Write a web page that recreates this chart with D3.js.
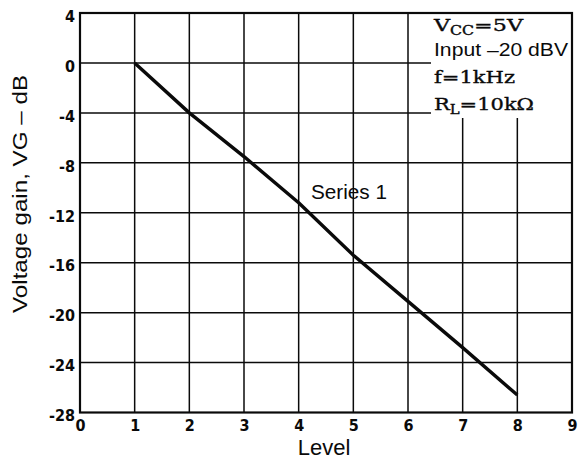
<!DOCTYPE html>
<html>
<head>
<meta charset="utf-8">
<script src="https://cdn.jsdelivr.net/npm/d3@7"></script>
<style>
  html, body { margin: 0; padding: 0; background: #fff; }
  svg { display: block; }
</style>
</head>
<body>
<script>
// Voltage gain against level setting
const levels = [1, 2, 3, 4, 5, 6, 7, 8];
const gainDb = [0, -4, -7.5, -11.2, -15.4, -19.1, -22.8, -26.6];
const xTickValues = [0, 1, 2, 3, 4, 5, 6, 7, 8, 9];
const yTickValues = [4, 0, -4, -8, -12, -16, -20, -24, -28];
const seriesName = "Series 1";
const xTitle = "Level";
const yTitle = "Voltage gain, VG \u2013 dB";

const W = 583, H = 460;
const plot = { left: 80, right: 572, top: 13, bottom: 412.5 };

const svg = d3.select("body").append("svg")
  .attr("width", W).attr("height", H);

const x = d3.scaleLinear().domain([0, 9]).range([plot.left, plot.right]);
const y = d3.scaleLinear().domain([-28, 4]).range([plot.bottom, plot.top]);

const ink = "#0a0a0a";
const tickFont = "'DejaVu Sans Condensed', 'DejaVu Sans', sans-serif";

// grid
const grid = svg.append("g");
grid.selectAll("line.v").data(xTickValues.slice(1, -1)).join("line")
  .attr("x1", d => x(d)).attr("x2", d => x(d))
  .attr("y1", plot.top).attr("y2", plot.bottom)
  .attr("stroke", ink).attr("stroke-width", 1.5);
grid.selectAll("line.h").data(yTickValues.slice(1, -1)).join("line")
  .attr("x1", plot.left).attr("x2", plot.right)
  .attr("y1", d => y(d)).attr("y2", d => y(d))
  .attr("stroke", ink).attr("stroke-width", 1.5);

// condition box over the upper right grid cells
svg.append("rect")
  .attr("x", 431).attr("y", plot.top + 1)
  .attr("width", plot.right - 431 - 1).attr("height", 104)
  .attr("fill", "#fff");

// frame
svg.append("rect")
  .attr("x", plot.left).attr("y", plot.top)
  .attr("width", plot.right - plot.left).attr("height", plot.bottom - plot.top)
  .attr("fill", "none").attr("stroke", ink).attr("stroke-width", 2.2);

// axes (labels only; frame and grid drawn above)
const xAxis = d3.axisBottom(x).tickValues(xTickValues).tickSize(0).tickPadding(0)
  .tickFormat(d => String(d));
const gx = svg.append("g").attr("transform", `translate(0,${plot.bottom})`).call(xAxis);
gx.select(".domain").remove();
gx.selectAll("text")
  .attr("y", 18).attr("dy", null)
  .attr("font-family", tickFont).attr("font-weight", "bold")
  .attr("font-size", 16).attr("fill", ink);

const yAxis = d3.axisLeft(y).tickValues(yTickValues).tickSize(0).tickPadding(0)
  .tickFormat(d => String(d));
const gy = svg.append("g").attr("transform", `translate(${plot.left - 5},0)`).call(yAxis);
gy.select(".domain").remove();
gy.selectAll("text")
  .attr("x", 0).attr("dy", "0.36em").attr("y", 2.5)
  .attr("font-family", tickFont).attr("font-weight", "bold")
  .attr("font-size", 16).attr("fill", ink);

// series
const line = d3.line().x(d => x(d[0])).y(d => y(d[1]));
svg.append("path")
  .datum(levels.map((l, i) => [l, gainDb[i]]))
  .attr("d", line)
  .attr("fill", "none").attr("stroke", ink)
  .attr("stroke-width", 3.4).attr("stroke-linejoin", "round");

svg.append("text")
  .attr("x", 311).attr("y", 199)
  .attr("font-family", "Liberation Sans, Arial, sans-serif")
  .attr("font-size", 20).attr("fill", ink)
  .attr("textLength", 76).attr("lengthAdjust", "spacingAndGlyphs")
  .text(seriesName);

// axis titles
svg.append("text")
  .attr("x", 324).attr("y", 455)
  .attr("text-anchor", "middle")
  .attr("font-family", "Liberation Sans, Arial, sans-serif")
  .attr("font-size", 22).attr("fill", ink)
  .text(xTitle);

svg.append("text")
  .attr("transform", "translate(27,194) rotate(-90)")
  .attr("text-anchor", "middle")
  .attr("font-family", "Liberation Sans, Arial, sans-serif")
  .attr("font-size", 20).attr("fill", ink)
  .attr("textLength", 238).attr("lengthAdjust", "spacingAndGlyphs")
  .text(yTitle);

// test conditions
const serif = "'DejaVu Serif', 'Liberation Serif', serif";
const cond = svg.append("g").attr("fill", ink);
const vcc = cond.append("text").attr("x", 434).attr("y", 31)
  .attr("font-family", serif).attr("font-size", 17)
  .attr("stroke", ink).attr("stroke-width", 0.35)
  .attr("textLength", 89).attr("lengthAdjust", "spacingAndGlyphs");
vcc.append("tspan").text("V");
vcc.append("tspan").attr("dy", 4).attr("font-size", 12).text("CC");
vcc.append("tspan").attr("dy", -4).text("=5V");

cond.append("text").attr("x", 434).attr("y", 56)
  .attr("font-family", "Liberation Sans, Arial, sans-serif").attr("font-size", 18)
  .attr("textLength", 134).attr("lengthAdjust", "spacingAndGlyphs")
  .text("Input \u201320 dBV");

cond.append("text").attr("x", 434).attr("y", 83)
  .attr("font-family", serif).attr("font-size", 17)
  .attr("stroke", ink).attr("stroke-width", 0.35)
  .attr("textLength", 81).attr("lengthAdjust", "spacingAndGlyphs")
  .text("f=1kHz");

const rl = cond.append("text").attr("x", 434).attr("y", 110)
  .attr("font-family", serif).attr("font-size", 17)
  .attr("stroke", ink).attr("stroke-width", 0.35)
  .attr("textLength", 100).attr("lengthAdjust", "spacingAndGlyphs");
rl.append("tspan").text("R");
rl.append("tspan").attr("dy", 4).attr("font-size", 12).text("L");
rl.append("tspan").attr("dy", -4).text("=10k\u03A9");
</script>
</body>
</html>
